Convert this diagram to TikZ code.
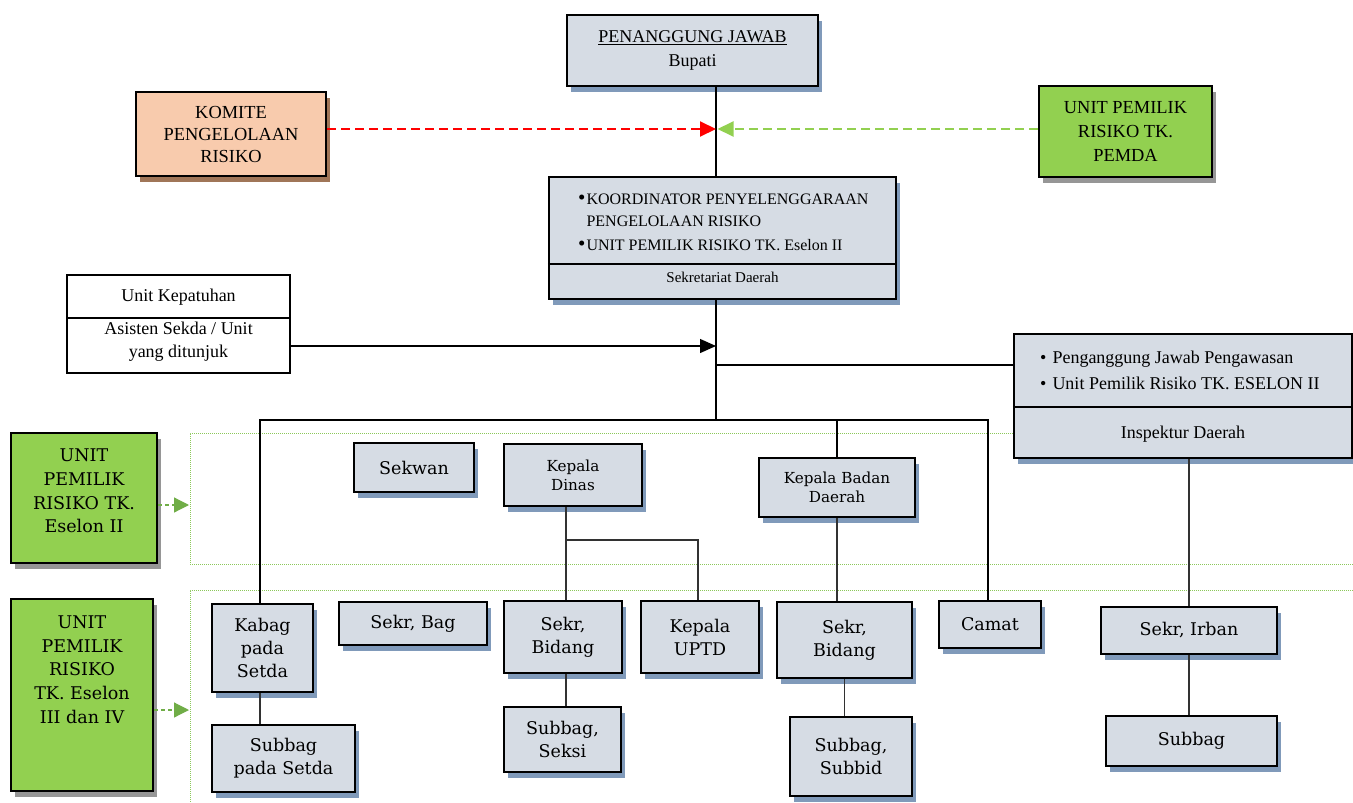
\documentclass[tikz,border=0pt]{standalone}
\usepackage{fontspec}
\setmainfont{Liberation Serif}
\newfontfamily\centfont{DejaVu Serif}
\usetikzlibrary{arrows.meta,shadows}
\definecolor{boxfill}{RGB}{214,220,228}
\definecolor{shblue}{RGB}{128,154,186}
\definecolor{shgrey}{RGB}{150,150,150}
\definecolor{shbrown}{RGB}{160,118,88}
\definecolor{peach}{RGB}{248,203,173}
\definecolor{lgreen}{RGB}{146,208,80}
\definecolor{dgreen}{RGB}{112,173,71}
\definecolor{dotgreen}{RGB}{140,200,90}
\definecolor{connc}{RGB}{50,50,50}
\newcommand\bigbul{{\fontsize{21}{22}\selectfont\textbullet}}
\tikzset{
  basebox/.style={draw, line width=2.2pt, inner sep=0pt, align=center},
  bshadow/.style={drop shadow={shadow xshift=4pt, shadow yshift=-6pt, fill=#1, opacity=1}},
  upbox/.style={basebox, fill=boxfill, bshadow=shblue, font=\fontsize{18}{24}\selectfont},
  lowbox/.style={basebox, fill=boxfill, bshadow=shblue, font=\centfont\fontsize{17.5}{23}\selectfont},
  greenbox/.style={basebox, fill=lgreen, bshadow=shgrey},
  txt/.style={inner sep=0pt, align=center},
  conn/.style={draw=connc, line width=1.3pt},
  reddash/.style={draw=red, line width=2pt, dash pattern=on 9pt off 5pt, -{Triangle[length=16pt,width=15pt,fill=red]}},
  greendash/.style={draw=lgreen, line width=2pt, dash pattern=on 9pt off 5pt, -{Triangle[length=16pt,width=15pt,fill=lgreen]}},
  garrow/.style={draw=dgreen, line width=1.2pt, dash pattern=on 4pt off 3pt, -{Triangle[length=15pt,width=15pt,fill=dgreen]}},
  blackarrow/.style={draw=black, line width=1.3pt, -{Triangle[length=16pt,width=14pt]}},
  dotline/.style={draw=dotgreen, line width=1pt, dash pattern=on 1pt off 1pt},
}
\begin{document}
\begin{tikzpicture}[x=1pt,y=-1pt]
\useasboundingbox (0,0) rectangle (1353,803);
\fill[white] (0,0) rectangle (1353,803);

% dotted regions
\draw[dotline] (1353,433) -- (190,433) -- (190,564) -- (1353,564);
\draw[dotline] (1353,590) -- (190,590) -- (190,803);

% helper coordinates
\coordinate (spine) at (716,0);
\coordinate (ah) at (716,129);
\coordinate (bar) at (716,420);
\coordinate (barL) at (260,420);
\coordinate (barR) at (988,420);
\coordinate (kp) at (716,346);
\coordinate (pw) at (716,365);
\coordinate (kd) at (566,540);
\coordinate (ku) at (698,540);
\coordinate (e2a) at (189,505);
\coordinate (e3a) at (189,710);

% top boxes
\node[upbox, minimum width=251pt, minimum height=71pt] (pj) at (692.5,50.5) {\underline{PENANGGUNG JAWAB}\\Bupati};
\node[basebox, fill=peach, bshadow=shbrown, minimum width=190pt, minimum height=84pt, font=\fontsize{18.4}{22}\selectfont] (komite) at (231,134) {KOMITE\\PENGELOLAAN\\RISIKO};
\node[greenbox, minimum width=173pt, minimum height=91pt, font=\fontsize{18.4}{24}\selectfont] (pemda) at (1125.5,131.5) {UNIT PEMILIK\\RISIKO TK.\\PEMDA};

% koordinator
\node[upbox, minimum width=347pt, minimum height=122pt] (koord) at (722.5,238) {};
\draw[line width=2.2pt] (koord.west |- 0,264) -- (koord.east |- 0,264);
\node[txt, anchor=west, align=left, font=\fontsize{16}{22}\selectfont] (koordtxt) at (578,223)
  {\begin{tabular}{@{}l@{\hspace{1pt}}l@{}}\bigbul&KOORDINATOR PENYELENGGARAAN\\&PENGELOLAAN RISIKO\\[2pt]\bigbul&UNIT PEMILIK RISIKO TK. Eselon II\end{tabular}};
\node[txt, font=\fontsize{15}{18}\selectfont] (sekda) at (722.5,277) {Sekretariat Daerah};

% unit kepatuhan
\node[basebox, fill=white, line width=2pt, minimum width=223pt, minimum height=98pt] (kepatuhan) at (178.5,324) {};
\draw[line width=2pt] (kepatuhan.west |- 0,318) -- (kepatuhan.east |- 0,318);
\node[txt, font=\fontsize{18}{23}\selectfont] (kepatuhantxt) at (178.5,297) {Unit Kepatuhan};
\node[txt, font=\fontsize{18}{23}\selectfont] (asisten) at (178.5,341.5) {Asisten Sekda / Unit\\yang ditunjuk};

% pengawasan
\node[upbox, minimum width=338pt, minimum height=124pt] (pengawasan) at (1183,396) {};
\draw[line width=2.2pt] (pengawasan.west |- 0,407) -- (pengawasan.east |- 0,407);
\node[txt, anchor=west, align=left, font=\fontsize{18}{26}\selectfont] (pengtxt) at (1040,371)
  {\begin{tabular}{@{}l@{\hspace{6pt}}l@{}}\textbullet&Penganggung Jawab Pengawasan\\\textbullet&Unit Pemilik Risiko TK. ESELON II\end{tabular}};
\node[txt, font=\fontsize{18}{23}\selectfont] (inspektur) at (1183,434) {Inspektur Daerah};

% green eselon boxes
\node[greenbox, minimum width=146pt, minimum height=130pt] (es2) at (84,498) {};
\node[txt, font=\centfont\fontsize{17.5}{23.7}\selectfont] (es2txt) at (84,491) {UNIT\\PEMILIK\\RISIKO TK.\\Eselon II};
\node[greenbox, minimum width=142pt, minimum height=192pt] (es34) at (82,695) {};
\node[txt, font=\centfont\fontsize{17.5}{23.7}\selectfont] (es34txt) at (82,669.5) {UNIT\\PEMILIK\\RISIKO\\TK. Eselon\\III dan IV};

% lower boxes
\node[lowbox, minimum width=120pt, minimum height=49pt] (sekwan) at (414,467.5) {Sekwan};
\node[lowbox, minimum width=138pt, minimum height=62pt, font=\centfont\fontsize{15.2}{19}\selectfont] (kdinas) at (573,475) {Kepala\\Dinas};
\node[lowbox, minimum width=156pt, minimum height=59pt, font=\centfont\fontsize{15.2}{18.5}\selectfont] (kbadan) at (837,487.5) {Kepala Badan\\Daerah};
\node[lowbox, minimum width=101pt, minimum height=88pt] (kabag) at (262.5,648) {Kabag\\pada\\Setda};
\node[lowbox, minimum width=148pt, minimum height=43pt] (sekrbag) at (413,623.5) {Sekr, Bag};
\node[lowbox, minimum width=118pt, minimum height=72pt] (sbid1) at (563,637) {Sekr,\\Bidang};
\node[lowbox, minimum width=118pt, minimum height=72pt] (uptd) at (700,637) {Kepala\\UPTD};
\node[lowbox, minimum width=135pt, minimum height=76pt] (sbid2) at (844.5,640) {Sekr,\\Bidang};
\node[lowbox, minimum width=102pt, minimum height=47pt] (camat) at (990,624.5) {Camat};
\node[lowbox, minimum width=176pt, minimum height=47pt] (irban) at (1189,630.5) {Sekr, Irban};
\node[lowbox, minimum width=143pt, minimum height=67pt] (subsetda) at (283.5,758.5) {Subbag\\pada Setda};
\node[lowbox, minimum width=117pt, minimum height=65pt] (seksi) at (562.5,739.5) {Subbag,\\Seksi};
\node[lowbox, minimum width=122pt, minimum height=79pt] (subbid) at (851,756.5) {Subbag,\\Subbid};
\node[lowbox, minimum width=171pt, minimum height=50pt] (subbag) at (1191.5,741) {Subbag};

% connectors
\draw[line width=1.3pt] (pj.south -| spine) -- (koord.north -| spine);
\draw[reddash] (komite.east |- ah) -- (ah);
\draw[greendash] (pemda.west |- ah) -- ([xshift=1.5pt]ah);
\draw[line width=1.3pt] (koord.south -| spine) -- (bar);
\draw[blackarrow] (kepatuhan.east |- kp) -- (kp);
\draw[line width=1.3pt] (pw) -- (pengawasan.west |- pw);
\draw[line width=1.3pt] (kabag.north -| barL) -- (barL) -- (barR) -- (camat.north -| barR);
\draw[line width=1.3pt] (kbadan.north) -- (kbadan.north |- barL);
\draw[conn] (kdinas.south -| kd) -- (sbid1.north -| kd);
\draw[conn] (kd) -- (ku) -- (uptd.north -| ku);
\draw[conn] (kbadan.south) -- (sbid2.north -| kbadan.south);
\draw[conn] (kabag.south -| barL) -- (subsetda.north -| barL);
\draw[conn] (sbid1.south -| kd) -- (seksi.north -| kd);
\draw[conn] (sbid2.south) -- (subbid.north -| sbid2.south);
\draw[conn] (pengawasan.south -| irban.north) -- (irban.north);
\draw[conn] (irban.south) -- (subbag.north -| irban.south);
\draw[garrow] (es2.east |- e2a) -- (e2a);
\draw[garrow] (es34.east |- e3a) -- (e3a);
\end{tikzpicture}
\end{document}
